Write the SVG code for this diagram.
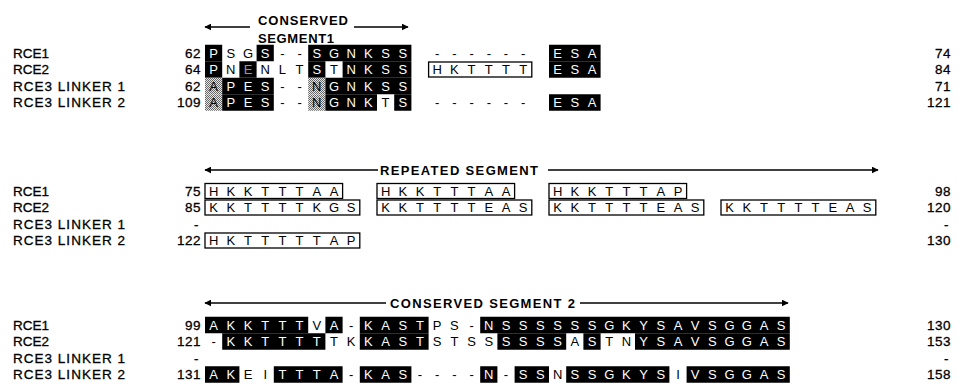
<svg xmlns="http://www.w3.org/2000/svg" width="959" height="385" viewBox="0 0 959 385">
<style>
text{font-family:"Liberation Sans","DejaVu Sans",sans-serif;font-size:13px;fill:#000}
.lab{font-size:13.5px;stroke:#000;stroke-width:0.3}
.num{text-anchor:end;letter-spacing:0.5px;font-size:13.5px;stroke:#000;stroke-width:0.3}
.hd{font-weight:bold}
.s{text-anchor:middle}
.w{fill:#fff}
.g{fill:#999}
.bk{fill:#000}
.st{fill:url(#dots)}
.bx{fill:none;stroke:#000;stroke-width:1.3}
.ar{stroke:#000;stroke-width:1.5;fill:none}
</style>
<defs>
<pattern id="dots" width="2" height="2" patternUnits="userSpaceOnUse"><rect width="2" height="2" fill="#e6e6e6"/><rect width="1" height="1" fill="#666"/><rect x="1" y="1" width="1" height="1" fill="#666"/></pattern>
<marker id="ah" viewBox="0 0 10 10" refX="9" refY="5" markerWidth="7" markerHeight="7" markerUnits="userSpaceOnUse" orient="auto-start-reverse"><path d="M0,0 L10,5 L0,10 z" fill="#000"/></marker>
</defs>
<rect width="959" height="385" fill="#fff"/>

<g id="labels">
<text class="lab" x="13" y="57.7" textLength="36" lengthAdjust="spacing">RCE1</text>
<text class="lab" x="13" y="74.2" textLength="36" lengthAdjust="spacing">RCE2</text>
<text class="lab" x="13" y="90.7" textLength="112" lengthAdjust="spacing">RCE3 LINKER 1</text>
<text class="lab" x="13" y="107.2" textLength="112" lengthAdjust="spacing">RCE3 LINKER 2</text>
<text class="lab" x="13" y="195.7" textLength="36" lengthAdjust="spacing">RCE1</text>
<text class="lab" x="13" y="212.2" textLength="36" lengthAdjust="spacing">RCE2</text>
<text class="lab" x="13" y="228.7" textLength="112" lengthAdjust="spacing">RCE3 LINKER 1</text>
<text class="lab" x="13" y="245.2" textLength="112" lengthAdjust="spacing">RCE3 LINKER 2</text>
<text class="lab" x="13" y="329.7" textLength="36" lengthAdjust="spacing">RCE1</text>
<text class="lab" x="13" y="346.2" textLength="36" lengthAdjust="spacing">RCE2</text>
<text class="lab" x="13" y="362.7" textLength="112" lengthAdjust="spacing">RCE3 LINKER 1</text>
<text class="lab" x="13" y="379.2" textLength="112" lengthAdjust="spacing">RCE3 LINKER 2</text>
</g>

<g id="numbers">
<text class="num" x="201" y="57.7">62</text>
<text class="num" x="201" y="74.2">64</text>
<text class="num" x="201" y="90.7">62</text>
<text class="num" x="201" y="107.2">109</text>
<text class="num" x="951" y="57.7">74</text>
<text class="num" x="951" y="74.2">84</text>
<text class="num" x="951" y="90.7">71</text>
<text class="num" x="951" y="107.2">121</text>
<text class="num" x="201" y="195.7">75</text>
<text class="num" x="201" y="212.2">85</text>
<text class="num" x="199" y="228.7">-</text>
<text class="num" x="201" y="245.2">122</text>
<text class="num" x="951" y="195.7">98</text>
<text class="num" x="951" y="212.2">120</text>
<text class="num" x="949" y="228.7">-</text>
<text class="num" x="951" y="245.2">130</text>
<text class="num" x="201" y="329.7">99</text>
<text class="num" x="201" y="346.2">121</text>
<text class="num" x="199" y="362.7">-</text>
<text class="num" x="201" y="379.2">131</text>
<text class="num" x="951" y="329.7">130</text>
<text class="num" x="951" y="346.2">153</text>
<text class="num" x="949" y="362.7">-</text>
<text class="num" x="951" y="379.2">158</text>
</g>

<g id="headers">
<text class="hd" x="258" y="25" textLength="90" lengthAdjust="spacing">CONSERVED</text>
<text class="hd" x="258" y="43" textLength="76" lengthAdjust="spacing">SEGMENT1</text>
<text class="hd" x="380" y="175" textLength="158" lengthAdjust="spacing">REPEATED SEGMENT</text>
<text class="hd" x="390" y="308" textLength="185" lengthAdjust="spacing">CONSERVED SEGMENT 2</text>
</g>

<g id="connectors">
<line class="ar" x1="205" y1="27" x2="250" y2="27" marker-start="url(#ah)"/>
<line class="ar" x1="354" y1="27" x2="408" y2="27" marker-end="url(#ah)"/>
<line class="ar" x1="205" y1="170" x2="378" y2="170" marker-start="url(#ah)"/>
<line class="ar" x1="548" y1="170" x2="878" y2="170" marker-end="url(#ah)"/>
<line class="ar" x1="205" y1="303" x2="386" y2="303" marker-start="url(#ah)"/>
<line class="ar" x1="580" y1="303" x2="788" y2="303" marker-end="url(#ah)"/>
</g>

<g id="block1">
<rect class="bk" x="205" y="44.75" width="17.2" height="16.5"/>
<rect class="bk" x="256.6" y="44.75" width="17.2" height="16.5"/>
<rect class="bk" x="308.2" y="44.75" width="103.2" height="16.5"/>
<rect class="bk" x="549" y="44.75" width="51.6" height="16.5"/>
<rect class="bk" x="205" y="61.25" width="17.2" height="16.5"/>
<rect class="bk" x="239.4" y="61.25" width="17.2" height="16.5"/>
<rect class="bk" x="308.2" y="61.25" width="17.2" height="16.5"/>
<rect class="bk" x="342.6" y="61.25" width="68.8" height="16.5"/>
<rect class="bk" x="549" y="61.25" width="51.6" height="16.5"/>
<rect class="bx" x="428.6" y="62" width="103.2" height="15"/>
<rect class="st" x="205" y="77.75" width="17.2" height="16.5"/>
<rect class="bk" x="222.2" y="77.75" width="51.6" height="16.5"/>
<rect class="st" x="308.2" y="77.75" width="17.2" height="16.5"/>
<rect class="bk" x="325.4" y="77.75" width="86" height="16.5"/>
<rect class="st" x="205" y="94.25" width="17.2" height="16.5"/>
<rect class="bk" x="222.2" y="94.25" width="51.6" height="16.5"/>
<rect class="st" x="308.2" y="94.25" width="17.2" height="16.5"/>
<rect class="bk" x="325.4" y="94.25" width="51.6" height="16.5"/>
<rect class="bk" x="394.2" y="94.25" width="17.2" height="16.5"/>
<rect class="bk" x="549" y="94.25" width="51.6" height="16.5"/>
<text class="s" y="57.7"><tspan class="w" x="213.6">P</tspan><tspan x="230.8 248">SG</tspan><tspan class="w" x="265.2">S</tspan><tspan x="282.4 299.6">--</tspan><tspan class="w" x="316.8 334 351.2 368.4 385.6 402.8">SGNKSS</tspan><tspan x="437.2 454.4 471.6 488.8 506 523.2">------</tspan><tspan class="w" x="557.6 574.8 592">ESA</tspan></text>
<text class="s" y="74.2"><tspan class="w" x="213.6">P</tspan><tspan x="230.8">N</tspan><tspan class="g" x="248">E</tspan><tspan x="265.2 282.4 299.6">NLT</tspan><tspan class="w" x="316.8">S</tspan><tspan x="334">T</tspan><tspan class="w" x="351.2 368.4 385.6 402.8">NKSS</tspan><tspan x="437.2 454.4 471.6 488.8 506 523.2">HKTTTT</tspan><tspan class="w" x="557.6 574.8 592">ESA</tspan></text>
<text class="s" y="90.7"><tspan x="213.6">A</tspan><tspan class="w" x="230.8 248 265.2">PES</tspan><tspan x="282.4 299.6 316.8">--N</tspan><tspan class="w" x="334 351.2 368.4 385.6 402.8">GNKSS</tspan></text>
<text class="s" y="107.2"><tspan x="213.6">A</tspan><tspan class="w" x="230.8 248 265.2">PES</tspan><tspan x="282.4 299.6 316.8">--N</tspan><tspan class="w" x="334 351.2 368.4">GNK</tspan><tspan x="385.6">T</tspan><tspan class="w" x="402.8">S</tspan><tspan x="437.2 454.4 471.6 488.8 506 523.2">------</tspan><tspan class="w" x="557.6 574.8 592">ESA</tspan></text>
</g>

<g id="block2">
<rect class="bx" x="205" y="183.5" width="137.6" height="15"/>
<rect class="bx" x="377" y="183.5" width="137.6" height="15"/>
<rect class="bx" x="549" y="183.5" width="137.6" height="15"/>
<rect class="bx" x="205" y="200" width="154.8" height="15"/>
<rect class="bx" x="377" y="200" width="154.8" height="15"/>
<rect class="bx" x="549" y="200" width="154.8" height="15"/>
<rect class="bx" x="721" y="200" width="154.8" height="15"/>
<rect class="bx" x="205" y="233" width="154.8" height="15"/>
<text class="s" y="195.7"><tspan x="213.6 230.8 248 265.2 282.4 299.6 316.8 334">HKKTTTAA</tspan><tspan x="385.6 402.8 420 437.2 454.4 471.6 488.8 506">HKKTTTAA</tspan><tspan x="557.6 574.8 592 609.2 626.4 643.6 660.8 678">HKKTTTAP</tspan></text>
<text class="s" y="212.2"><tspan x="213.6 230.8 248 265.2 282.4 299.6 316.8 334 351.2">KKTTTTKGS</tspan><tspan x="385.6 402.8 420 437.2 454.4 471.6 488.8 506 523.2">KKTTTTEAS</tspan><tspan x="557.6 574.8 592 609.2 626.4 643.6 660.8 678 695.2">KKTTTTEAS</tspan><tspan x="729.6 746.8 764 781.2 798.4 815.6 832.8 850 867.2">KKTTTTEAS</tspan></text>
<text class="s" y="245.2"><tspan x="213.6 230.8 248 265.2 282.4 299.6 316.8 334 351.2">HKTTTTTAP</tspan></text>
</g>

<g id="block3">
<rect class="bk" x="205" y="316.75" width="103.2" height="16.5"/>
<rect class="bk" x="325.4" y="316.75" width="17.2" height="16.5"/>
<rect class="bk" x="359.8" y="316.75" width="68.8" height="16.5"/>
<rect class="bk" x="480.2" y="316.75" width="309.6" height="16.5"/>
<rect class="bk" x="222.2" y="333.25" width="103.2" height="16.5"/>
<rect class="bk" x="359.8" y="333.25" width="68.8" height="16.5"/>
<rect class="bk" x="497.4" y="333.25" width="68.8" height="16.5"/>
<rect class="bk" x="583.4" y="333.25" width="17.2" height="16.5"/>
<rect class="bk" x="635" y="333.25" width="154.8" height="16.5"/>
<rect class="bk" x="205" y="366.25" width="34.4" height="16.5"/>
<rect class="bk" x="273.8" y="366.25" width="68.8" height="16.5"/>
<rect class="bk" x="359.8" y="366.25" width="51.6" height="16.5"/>
<rect class="bk" x="480.2" y="366.25" width="17.2" height="16.5"/>
<rect class="bk" x="514.6" y="366.25" width="34.4" height="16.5"/>
<rect class="bk" x="566.2" y="366.25" width="103.2" height="16.5"/>
<rect class="bk" x="686.6" y="366.25" width="103.2" height="16.5"/>
<text class="s" y="329.7"><tspan class="w" x="213.6 230.8 248 265.2 282.4 299.6">AKKTTT</tspan><tspan x="316.8">V</tspan><tspan class="w" x="334">A</tspan><tspan x="351.2">-</tspan><tspan class="w" x="368.4 385.6 402.8 420">KAST</tspan><tspan x="437.2 454.4 471.6">PS-</tspan><tspan class="w" x="488.8 506 523.2 540.4 557.6 574.8 592 609.2 626.4 643.6 660.8 678 695.2 712.4 729.6 746.8 764 781.2">NSSSSSSGKYSAVSGGAS</tspan></text>
<text class="s" y="346.2"><tspan x="213.6">-</tspan><tspan class="w" x="230.8 248 265.2 282.4 299.6 316.8">KKTTTT</tspan><tspan x="334 351.2">TK</tspan><tspan class="w" x="368.4 385.6 402.8 420">KAST</tspan><tspan x="437.2 454.4 471.6 488.8">STSS</tspan><tspan class="w" x="506 523.2 540.4 557.6">SSSS</tspan><tspan x="574.8">A</tspan><tspan class="w" x="592">S</tspan><tspan x="609.2 626.4">TN</tspan><tspan class="w" x="643.6 660.8 678 695.2 712.4 729.6 746.8 764 781.2">YSAVSGGAS</tspan></text>
<text class="s" y="379.2"><tspan class="w" x="213.6 230.8">AK</tspan><tspan x="248 265.2">EI</tspan><tspan class="w" x="282.4 299.6 316.8 334">TTTA</tspan><tspan x="351.2">-</tspan><tspan class="w" x="368.4 385.6 402.8">KAS</tspan><tspan x="420 437.2 454.4 471.6">----</tspan><tspan class="w" x="488.8">N</tspan><tspan x="506">-</tspan><tspan class="w" x="523.2 540.4">SS</tspan><tspan x="557.6">N</tspan><tspan class="w" x="574.8 592 609.2 626.4 643.6 660.8">SSGKYS</tspan><tspan x="678">I</tspan><tspan class="w" x="695.2 712.4 729.6 746.8 764 781.2">VSGGAS</tspan></text>
</g>
</svg>
